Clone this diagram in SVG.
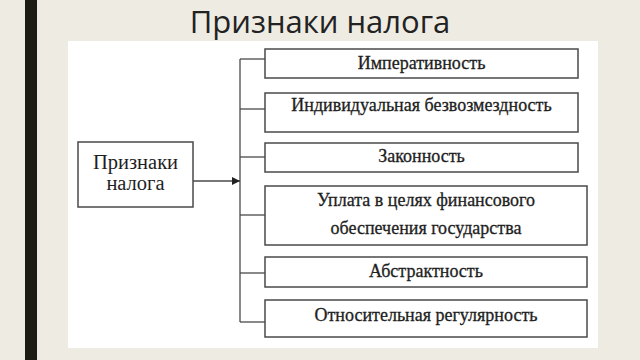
<svg xmlns="http://www.w3.org/2000/svg" width="640" height="360" viewBox="0 0 640 360">
<defs>
<style>
.box{fill:#fff;stroke:#4a4a4a;stroke-width:1.5}
.t{font-family:"Liberation Serif","Times New Roman",serif;font-size:18px;fill:#1e1e1e;text-anchor:middle;stroke:#1e1e1e;stroke-width:0.3}
.big{font-family:"Liberation Serif","Times New Roman",serif;font-size:20.5px;fill:#1e1e1e;text-anchor:middle}
.ln{stroke:#4a4a4a;stroke-width:1.3;fill:none}
</style>
<marker id="ah" viewBox="0 0 10 10" refX="10" refY="5" markerWidth="8" markerHeight="8" markerUnits="userSpaceOnUse" orient="auto">
<path d="M0,0 L10,5 L0,10 z" fill="#222"/>
</marker>
</defs>
<rect width="640" height="360" fill="#eeebe3"/>
<rect x="25" y="0" width="12" height="360" fill="#1c1c12"/>
<text x="320" y="33" font-family="Open Sans, sans-serif" font-size="31" fill="#222" text-anchor="middle">Признаки налога</text>
<rect x="68" y="41" width="530" height="307" fill="#fff"/>
<g id="connectors">
<line class="ln" x1="240" y1="59" x2="240" y2="322"/>
<line class="ln" x1="240" y1="59" x2="265" y2="59"/>
<line class="ln" x1="240" y1="109" x2="265" y2="109"/>
<line class="ln" x1="240" y1="157" x2="265" y2="157"/>
<line class="ln" x1="240" y1="215" x2="265" y2="215"/>
<line class="ln" x1="240" y1="273" x2="265" y2="273"/>
<line class="ln" x1="240" y1="322" x2="265" y2="322"/>
<line class="ln" x1="193" y1="181" x2="240" y2="181" marker-end="url(#ah)"/>
</g>
<g id="root"><rect class="box" x="78" y="142" width="115" height="65"/>
<text class="big" x="135.5" y="169">Признаки</text><text class="big" x="135.5" y="190">налога</text></g>
<g id="n1"><rect class="box" x="265" y="49" width="313" height="29"/><text class="t" x="421.5" y="69">Императивность</text></g>
<g id="n2"><rect class="box" x="265" y="93" width="313" height="39"/><text class="t" x="421.5" y="111">Индивидуальная безвозмездность</text></g>
<g id="n3"><rect class="box" x="265" y="143" width="313" height="29"/><text class="t" x="421.5" y="162">Законность</text></g>
<g id="n4"><rect class="box" x="265" y="186" width="322" height="59"/><text class="t" x="426" y="206">Уплата в целях финансового</text><text class="t" x="426" y="234">обеспечения государства</text></g>
<g id="n5"><rect class="box" x="265" y="257" width="322" height="30"/><text class="t" x="426" y="277">Абстрактность</text></g>
<g id="n6"><rect class="box" x="265" y="300" width="322" height="37"/><text class="t" x="426" y="321">Относительная регулярность</text></g>
</svg>
